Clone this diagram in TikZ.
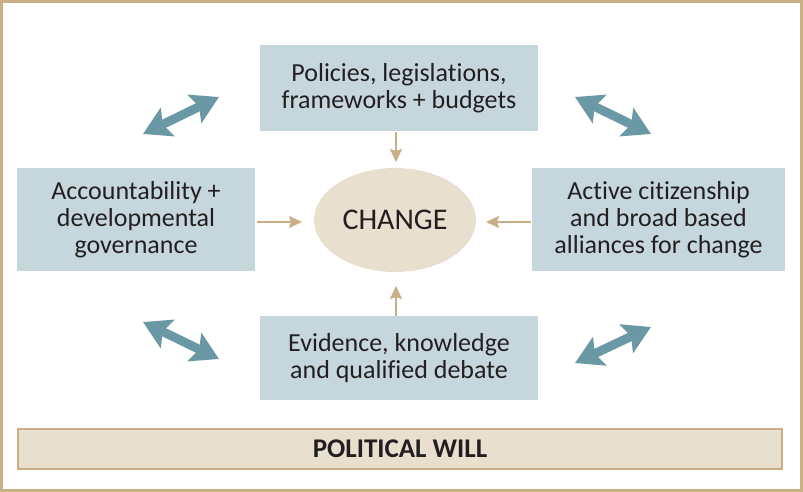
\documentclass[tikz,border=0pt]{standalone}
\usepackage{fontspec}
\setmainfont{Carlito}[Ligatures=NoCommon]
\usetikzlibrary{arrows.meta,shapes.geometric}
\definecolor{boxblue}{HTML}{C5D7DD}
\definecolor{teal2}{HTML}{6A98A5}
\definecolor{tan2}{HTML}{C9AF85}
\definecolor{beige2}{HTML}{E8DFCF}
\definecolor{ink}{HTML}{231F20}
\tikzset{
  bluebox/.style={fill=boxblue, draw=none, text=ink, align=center, font=\fontsize{26}{27}\selectfont, inner sep=0pt},
  thinarrow/.style={draw=tan2, line width=1.8pt, -{Stealth[length=13pt,width=12pt,inset=2pt]}},
  dblarrow/.style={draw=teal2, line width=9pt, {Stealth[length=27pt,width=31pt,inset=5pt]}-{Stealth[length=27pt,width=31pt,inset=5pt]}},
}
\begin{document}
\begin{tikzpicture}[x=1pt,y=-1pt]
\useasboundingbox (0,0) rectangle (803,492);
\draw[tan2, line width=3pt] (1.5,1.5) rectangle (801.5,490.5);
% boxes
\node[bluebox, minimum width=278pt, minimum height=86pt] (top) at (399,88) {Policies, legislations,\\frameworks + budgets};
\node[bluebox, minimum width=238pt, minimum height=103pt] (left) at (136,219.5) {Accountability +\\developmental\\governance};
\node[bluebox, minimum width=253pt, minimum height=103pt] (right) at (658.5,219.5) {Active citizenship\\and broad based\\alliances for change};
\node[bluebox, minimum width=278pt, minimum height=84pt] (bottom) at (399,358) {Evidence, knowledge\\and qualified debate};
% ellipse
\node[ellipse, fill=beige2, minimum width=162pt, minimum height=104pt, inner sep=0pt, text=ink, font=\fontsize{30}{32}\selectfont] (change) at (395,220) {CHANGE};
% thin arrows
\coordinate (ta) at (396,132); \coordinate (tb) at (396,162);
\coordinate (la) at (257,222); \coordinate (lb) at (302,222);
\coordinate (ra) at (531,222); \coordinate (rb) at (486,222);
\coordinate (ba) at (396,316); \coordinate (bb) at (396,286);
\draw[thinarrow] (ta) -- (tb);
\draw[thinarrow] (la) -- (lb);
\draw[thinarrow] (ra) -- (rb);
\draw[thinarrow] (ba) -- (bb);
% double arrows
\coordinate (d1a) at (143,134); \coordinate (d1b) at (219,97);
\coordinate (d2a) at (575,97); \coordinate (d2b) at (651,134);
\coordinate (d3a) at (143,322); \coordinate (d3b) at (219,359);
\coordinate (d4a) at (575,363); \coordinate (d4b) at (651,327);
\draw[dblarrow] (d1a) -- (d1b);
\draw[dblarrow] (d2a) -- (d2b);
\draw[dblarrow] (d3a) -- (d3b);
\draw[dblarrow] (d4a) -- (d4b);
% political will
\node[fill=beige2, draw=tan2, line width=2pt, minimum width=764pt, minimum height=40pt, inner sep=0pt, text=ink, font=\fontsize{27}{28}\selectfont\bfseries] (will) at (400,449) {POLITICAL WILL};
\end{tikzpicture}
\end{document}
